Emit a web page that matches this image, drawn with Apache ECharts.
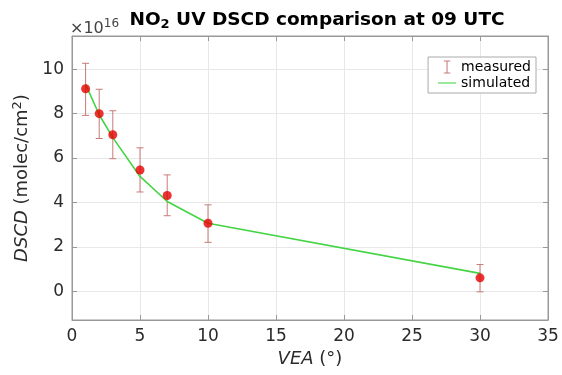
<!DOCTYPE html>
<html><head><meta charset="utf-8">
<script src="https://cdn.jsdelivr.net/npm/echarts@6/dist/echarts.min.js"></script>
<style>html,body{margin:0;padding:0;background:#fff}#c{width:562px;height:375px}</style>
</head><body><div id="c"></div>
<script>
// Data (DSCD in units of 1e16 molec/cm^2)
var vea = [1, 2, 3, 5, 7, 10, 30];
var measured = [9.12, 8.0, 7.05, 5.46, 4.31, 3.06, 0.6];
var errLow = [7.92, 6.88, 5.97, 4.47, 3.4, 2.2, -0.03];
var errHigh = [10.27, 9.1, 8.13, 6.46, 5.24, 3.89, 1.2];
var simulated = [9.32, 7.95, 6.92, 5.17, 4.04, 3.06, 0.8];
var xTicks = [0, 5, 10, 15, 20, 25, 30, 35];
var yTicks = [0, 2, 4, 6, 8, 10];

var chart = echarts.init(document.getElementById('c'));
var font = 'DejaVu Sans';
var measPts = vea.map(function (v, i) { return [v, measured[i]]; });
var simPts = vea.map(function (v, i) { return [v, simulated[i]]; });
var errPts = vea.map(function (v, i) { return [v, errLow[i], errHigh[i]]; });
var errColor = '#c97a78';
var txt = '#2b2b2b';

chart.setOption({
  animation: false,
  textStyle: { fontFamily: font },
  title: {
    text: 'NO{sub|2} UV DSCD comparison at 09 UTC',
    left: 312, textAlign: 'center', top: 4,
    textStyle: {
      fontFamily: font, fontWeight: 'bold', fontSize: 18.5, color: '#000',
      rich: { sub: { fontFamily: font, fontWeight: 'bold', fontSize: 13, verticalAlign: 'bottom', padding: [9, 0, 0, 0], color: '#000' } }
    }
  },
  graphic: [{
    type: 'text', left: 70, top: 18,
    style: {
      text: '×10{sup|16}', fontFamily: font, fontSize: 16, fill: '#444',
      rich: { sup: { fontFamily: font, fontSize: 12, padding: [0, 0, 9, 0], fill: '#444' } }
    }
  }],
  legend: {
    right: 26, top: 57, orient: 'vertical',
    backgroundColor: '#fff', borderColor: '#aaa', borderWidth: 1,
    padding: [3, 5, 3, 10], itemGap: 2, itemWidth: 18, itemHeight: 13,
    textStyle: { fontFamily: font, fontSize: 14, color: '#000' },
    data: [
      { name: 'measured', icon: 'path://M0,0H5V0.8H2.9V9.2H5V10H0V9.2H2.1V0.8H0Z', itemStyle: { color: errColor } },
      { name: 'simulated', icon: 'path://M0,0H20V1.2H0Z', itemStyle: { color: '#44d444' } }
    ]
  },
  grid: { left: 72, right: 14, top: 36, bottom: 55, show: true, borderColor: '#999', borderWidth: 1 },
  xAxis: [{
    type: 'value', min: 0, max: 35, interval: 5,
    name: '{it|VEA} (°)', nameLocation: 'middle', nameGap: 24,
    nameTextStyle: { fontFamily: font, fontSize: 18, color: txt, rich: { it: { fontFamily: font, fontStyle: 'italic', fontSize: 18, color: txt } } },
    axisLine: { onZero: false, lineStyle: { color: '#999' } },
    axisTick: { inside: true, length: 5, lineStyle: { color: '#999' } },
    axisLabel: { fontFamily: font, fontSize: 17, color: txt, margin: 8 },
    splitLine: { show: true, lineStyle: { color: '#e8e8e8' } }
  }, {
    type: 'value', min: 0, max: 35, interval: 5, position: 'top',
    axisLine: { show: true, onZero: false, lineStyle: { color: '#999' } },
    axisTick: { inside: true, length: 5, lineStyle: { color: '#999' } },
    axisLabel: { show: false }, splitLine: { show: false }
  }],
  yAxis: [{
    type: 'value', min: -1.3, max: 11.5,
    name: '{it|DSCD} (molec/cm{sup|2})', nameLocation: 'middle', nameGap: 31, nameRotate: 90,
    nameTextStyle: { fontFamily: font, fontSize: 18, color: txt,
      rich: { it: { fontFamily: font, fontStyle: 'italic', fontSize: 18, color: txt },
              sup: { fontFamily: font, fontSize: 13, padding: [0, 0, 9, 0], color: txt } } },
    axisLine: { show: true, onZero: false, lineStyle: { color: '#999' } },
    axisTick: { inside: true, length: 5, lineStyle: { color: '#999' }, customValues: yTicks },
    axisLabel: { fontFamily: font, fontSize: 17, color: txt, margin: 8, customValues: yTicks },
    splitLine: { show: true, lineStyle: { color: '#e8e8e8' } }
  }, {
    type: 'value', min: -1.3, max: 11.5, position: 'right',
    axisLine: { show: true, onZero: false, lineStyle: { color: '#999' } },
    axisTick: { inside: true, length: 5, lineStyle: { color: '#999' }, customValues: yTicks },
    axisLabel: { show: false, customValues: yTicks }, splitLine: { show: false }
  }],
  series: [{
    name: 'simulated', type: 'line', data: simPts, symbol: 'none',
    lineStyle: { color: '#44d444', width: 1.6 }, itemStyle: { color: '#44d444' }, z: 3
  }, {
    name: 'measured', type: 'custom', data: errPts, z: 2,
    itemStyle: { color: errColor },
    renderItem: function (params, api) {
      var x = api.value(0);
      var lo = api.coord([x, api.value(1)]);
      var hi = api.coord([x, api.value(2)]);
      var w = 3.5;
      var st = { stroke: errColor, lineWidth: 1 };
      return { type: 'group', children: [
        { type: 'line', shape: { x1: lo[0], y1: lo[1], x2: hi[0], y2: hi[1] }, style: st },
        { type: 'line', shape: { x1: lo[0] - w, y1: lo[1], x2: lo[0] + w, y2: lo[1] }, style: st },
        { type: 'line', shape: { x1: hi[0] - w, y1: hi[1], x2: hi[0] + w, y2: hi[1] }, style: st }
      ] };
    }
  }, {
    name: 'measured pts', type: 'scatter', data: measPts, symbol: 'circle', symbolSize: 9,
    itemStyle: { color: '#e60000' }, z: 4
  }]
});
</script></body></html>
